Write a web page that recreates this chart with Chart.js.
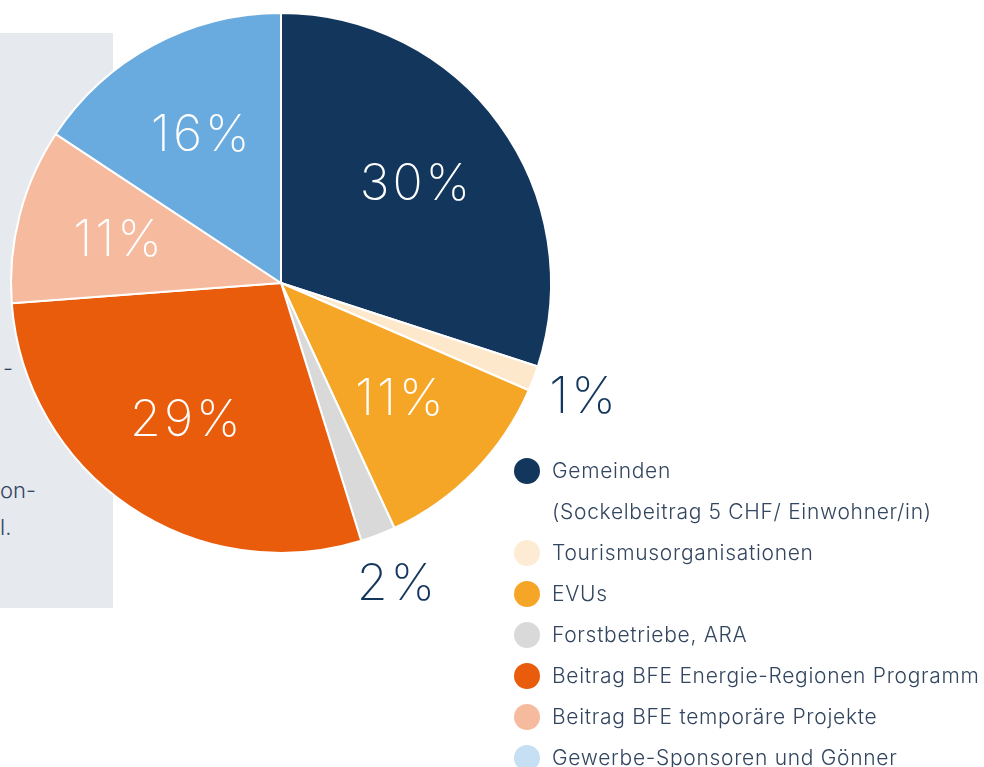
<!DOCTYPE html>
<html>
<head>
<meta charset="utf-8">
<script src="https://cdn.jsdelivr.net/npm/chart.js@4.4.0/dist/chart.umd.min.js"></script>
<style>
  html, body { margin: 0; padding: 0; background: #fff; }
  body { width: 984px; height: 767px; position: relative; overflow: hidden; font-family: Inter, "Open Sans", sans-serif; }
  #box { position: absolute; left: 0; top: 33px; width: 113px; height: 575px; background: #e6e9ee; }
  #box span { position: absolute; color: #33445e; font-size: 22px; line-height: 26px; font-weight: 300; white-space: nowrap; }
  #wrap { position: absolute; left: 0; top: 0; width: 984px; height: 767px; }
  #legend { position: absolute; left: 514px; top: 455px; margin: 0; padding: 0; list-style: none; }
  #legend li { position: relative; height: 41px; line-height: 32px; padding-left: 38px; color: #33465f; font-size: 21px; font-weight: 300; letter-spacing: 0.7px; white-space: nowrap; }
  #legend li i { position: absolute; left: 0; top: 3px; width: 26px; height: 26px; border-radius: 50%; }
</style>
</head>
<body>
<div id="box">
  <span style="top:322px;left:3px">-</span>
  <span style="top:444px;left:0">on-</span>
  <span style="top:481px;left:0">l.</span>
</div>
<div id="wrap"><canvas id="chartFinanzierung" width="984" height="767"></canvas></div>
<ul id="legend"></ul>
<script>
const categories = [
  ['Gemeinden', '(Sockelbeitrag 5 CHF/ Einwohner/in)'],
  'Tourismusorganisationen',
  'EVUs',
  'Forstbetriebe, ARA',
  'Beitrag BFE Energie-Regionen Programm',
  'Beitrag BFE temporäre Projekte',
  'Gewerbe-Sponsoren und Gönner'
];
const shares = [30, 1.5, 11.6, 2.1, 28.6, 10.5, 15.7];
const shareLabels = ['30%', '1%', '11%', '2%', '29%', '11%', '16%'];
const sliceColors = ['#12365c', '#fde8cc', '#f6a626', '#d9d9d9', '#e95c0c', '#f6bb9f', '#69abdf'];
const legendColors = ['#12365c', '#fdebd3', '#f6a626', '#d9d9d9', '#e95c0c', '#f6bb9f', '#c6dff3'];

// legend as html
const legendEl = document.getElementById('legend');
categories.forEach(function(cat, i) {
  const lines = Array.isArray(cat) ? cat : [cat];
  lines.forEach(function(line, j) {
    const li = document.createElement('li');
    if (j === 0) {
      const dot = document.createElement('i');
      dot.style.background = legendColors[i];
      li.appendChild(dot);
    }
    li.appendChild(document.createTextNode(line));
    legendEl.appendChild(li);
  });
});

// percent labels drawn on the slices
const sliceLabels = {
  id: 'sliceLabels',
  afterDatasetsDraw(chart) {
    const ctx = chart.ctx;
    const meta = chart.getDatasetMeta(0);
    ctx.save();
    ctx.textAlign = 'center';
    ctx.textBaseline = 'middle';
    ctx.font = '200 50px Inter, "Open Sans", sans-serif';
    if ('letterSpacing' in ctx) ctx.letterSpacing = '3px';
    meta.data.forEach(function(arc, i) {
      const p = arc.getProps(['x', 'y', 'startAngle', 'endAngle', 'outerRadius'], true);
      const mid = (p.startAngle + p.endAngle) / 2;
      const small = shares[i] < 5;
      const f = small ? 1.2 : 0.62;
      const x = p.x + Math.cos(mid) * p.outerRadius * f;
      const y = p.y + Math.sin(mid) * p.outerRadius * f;
      ctx.fillStyle = small ? '#12365c' : '#ffffff';
      ctx.fillText(shareLabels[i], x, y);
    });
    ctx.restore();
  }
};

const ctxFin = document.getElementById('chartFinanzierung').getContext('2d');
new Chart(ctxFin, {
  type: 'pie',
  data: {
    labels: categories.map(c => Array.isArray(c) ? c.join(' ') : c),
    datasets: [{
      data: shares,
      backgroundColor: sliceColors,
      borderColor: '#ffffff',
      borderWidth: 2
    }]
  },
  options: {
    responsive: false,
    animation: false,
    layout: { padding: { left: 10, top: 12, right: 432, bottom: 213 } },
    plugins: {
      legend: { display: false },
      tooltip: { enabled: false }
    }
  },
  plugins: [sliceLabels]
});
</script>
</body>
</html>
